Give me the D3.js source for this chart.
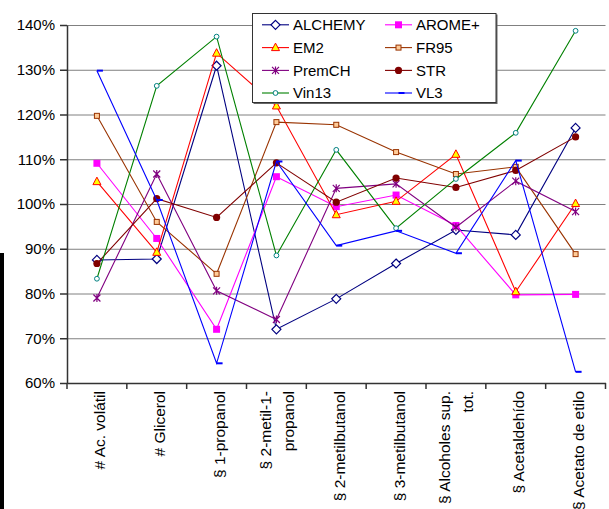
<!DOCTYPE html>
<html>
<head>
<meta charset="utf-8">
<script src="https://cdn.jsdelivr.net/npm/d3@7/dist/d3.min.js"></script>
<style>
  html, body { margin: 0; padding: 0; background: #fff; }
  svg { display: block; font-family: "Liberation Sans", Arial, sans-serif; }
</style>
</head>
<body>
<svg id="chart" width="609" height="509"></svg>
<script>
// Categories (x axis), each label split into its display lines
const categories = ["# Ac. volátil", "# Glicerol", "§ 1-propanol", "§ 2-metil-1-propanol",
  "§ 2-metilbutanol", "§ 3-metilbutanol", "§ Alcoholes sup. tot.", "§ Acetaldehído", "§ Acetato de etilo"];
const categoryLines = [["# Ac. volátil"], ["# Glicerol"], ["§ 1-propanol"], ["§ 2-metil-1-", "propanol"],
  ["§ 2-metilbutanol"], ["§ 3-metilbutanol"], ["§ Alcoholes sup.", "tot."], ["§ Acetaldehído"], ["§ Acetato de etilo"]];

// Series values (percent)
const seriesNames = ["ALCHEMY", "AROME+", "EM2", "FR95", "PremCH", "STR", "Vin13", "VL3"];
const alchemy = [87.5, 87.7, 130.9, 72.0, 78.8, 86.7, 94.2, 93.1, 117.0];
const aromePlus = [109.1, 92.3, 72.0, 106.1, 99.4, 102.0, 95.2, 79.7, 79.8];
const em2 = [105.0, 89.2, 133.7, 121.9, 97.6, 100.6, 111.1, 80.4, 100.1];
const fr95 = [119.7, 96.0, 84.4, 118.3, 117.7, 111.6, 106.7, 108.3, 88.8];
const premCH = [79.0, 106.7, 80.6, 74.2, 103.5, 104.5, 94.8, 105.1, 98.3];
const str = [86.7, 101.2, 97.0, 109.2, 100.4, 105.8, 103.7, 107.5, 115.0];
const vin13 = [83.3, 126.4, 137.4, 88.5, 112.1, 94.6, 105.6, 115.9, 138.7];
const vl3 = [129.8, 100.9, 64.4, 109.5, 90.7, 94.0, 89.0, 109.7, 62.5];

// Y axis ticks
const yTicks = [60, 70, 80, 90, 100, 110, 120, 130, 140];

const seriesValues = [alchemy, aromePlus, em2, fr95, premCH, str, vin13, vl3];

// Styles per series
const styles = {
  "ALCHEMY": { line: "#000080", marker: "diamond", stroke: "#000080", fill: "#ffffff" },
  "AROME+":  { line: "#ff00ff", marker: "square",  stroke: "#ff00ff", fill: "#ff00ff" },
  "EM2":     { line: "#ff0000", marker: "triangle", stroke: "#ff0000", fill: "#ffff00" },
  "FR95":    { line: "#993300", marker: "smallSquare", stroke: "#993300", fill: "#ffcc99" },
  "PremCH":  { line: "#800080", marker: "asterisk", stroke: "#800080", fill: "none" },
  "STR":     { line: "#800000", marker: "dot", stroke: "#800000", fill: "#800000" },
  "Vin13":   { line: "#008000", marker: "ring", stroke: "#008080", fill: "#ffffff" },
  "VL3":     { line: "#0000ff", marker: "dash", stroke: "#0000ff", fill: "#0000ff" }
};

const svg = d3.select("#chart");

// Plot frame
const plotLeft = 67, plotRight = 605.5, plotTop = 25, plotBottom = 383;

const x = d3.scaleBand().domain(categories).range([plotLeft, plotRight]).padding(0);
const y = d3.scaleLinear().domain([60, 140]).range([plotBottom, plotTop]);
const cx = c => x(c) + x.bandwidth() / 2;

// Stray black strip at the left edge
svg.append("rect").attr("x", 0).attr("y", 253).attr("width", 4).attr("height", 256).attr("fill", "#000");

// Horizontal gridlines
svg.append("g")
  .attr("transform", `translate(${plotLeft},0)`)
  .call(d3.axisLeft(y).tickValues(yTicks).tickSize(-(plotRight - plotLeft)).tickFormat(""))
  .call(g => g.select(".domain").remove())
  .call(g => g.selectAll("line").attr("stroke", "#808080").attr("stroke-width", 1));

// Y axis with percentage labels
svg.append("g")
  .attr("transform", `translate(${plotLeft},0)`)
  .call(d3.axisLeft(y).tickValues(yTicks).tickSize(7).tickSizeOuter(0).tickPadding(5).tickFormat(d => d + "%"))
  .call(g => g.select(".domain").attr("stroke", "#333").attr("stroke-width", 1.5))
  .call(g => g.selectAll(".tick line").attr("stroke", "#333").attr("stroke-width", 1.5))
  .call(g => g.selectAll("text").attr("font-size", 15).attr("fill", "#000")
    .attr("font-family", "Liberation Sans, Arial, sans-serif"));

// X axis line with tick marks at category boundaries
const xAxisG = svg.append("g").attr("transform", `translate(0,${plotBottom})`);
xAxisG.call(d3.axisBottom(x).tickSize(0).tickFormat(""))
  .call(g => g.select(".domain").attr("stroke", "#333").attr("stroke-width", 1.5))
  .call(g => g.selectAll(".tick").remove());
const bounds = categories.map(c => x(c)).concat([plotRight]);
xAxisG.selectAll("line.bound").data(bounds).enter().append("line")
  .attr("class", "bound")
  .attr("x1", d => d).attr("x2", d => d).attr("y1", 0).attr("y2", 6)
  .attr("stroke", "#333").attr("stroke-width", 1.5);

// Rotated category labels
const lineGap = 23;
categories.forEach((c, i) => {
  const lines = categoryLines[i];
  const t = svg.append("text")
    .attr("transform", `translate(${cx(c)},391) rotate(-90)`)
    .attr("text-anchor", "end")
    .attr("font-size", 15.5)
    .attr("fill", "#000");
  const offsets = lines.length === 1 ? [8.5] : [-5.5, -5.5 + lineGap];
  lines.forEach((ln, j) => {
    t.append("tspan").attr("x", 0).attr("y", offsets[j]).text(ln);
  });
});

// Marker drawing
function drawMarker(g, kind, st) {
  switch (kind) {
    case "diamond":
      g.append("path").attr("d", "M0,-4.5L4.5,0L0,4.5L-4.5,0Z")
        .attr("fill", st.fill).attr("stroke", st.stroke).attr("stroke-width", 1.2);
      break;
    case "square":
      g.append("rect").attr("x", -3.5).attr("y", -3.5).attr("width", 7).attr("height", 7)
        .attr("fill", st.fill);
      break;
    case "triangle":
      g.append("path").attr("d", "M0,-4.5L4,3L-4,3Z")
        .attr("fill", st.fill).attr("stroke", st.stroke).attr("stroke-width", 1);
      break;
    case "smallSquare":
      g.append("rect").attr("x", -2.5).attr("y", -2.5).attr("width", 5).attr("height", 5)
        .attr("fill", st.fill).attr("stroke", st.stroke).attr("stroke-width", 1);
      break;
    case "asterisk":
      g.append("path").attr("d", "M-3.5,-3.5L3.5,3.5M-3.5,3.5L3.5,-3.5M0,-4L0,4")
        .attr("fill", "none").attr("stroke", st.stroke).attr("stroke-width", 1.2);
      break;
    case "dot":
      g.append("circle").attr("r", 3.6).attr("fill", st.fill);
      break;
    case "ring":
      g.append("circle").attr("r", 2.4)
        .attr("fill", st.fill).attr("stroke", st.stroke).attr("stroke-width", 1);
      break;
    case "dash":
      g.append("rect").attr("x", 0).attr("y", -1).attr("width", 6).attr("height", 2)
        .attr("fill", st.fill);
      break;
  }
}

// Series lines and markers
const line = d3.line().x((d, i) => cx(categories[i])).y(d => y(d));
seriesNames.forEach((name, k) => {
  const st = styles[name];
  const vals = seriesValues[k];
  const g = svg.append("g").attr("class", "series");
  g.append("path").datum(vals).attr("d", line)
    .attr("fill", "none").attr("stroke", st.line).attr("stroke-width", 1.1);
  vals.forEach((v, i) => {
    const mg = g.append("g").attr("transform", `translate(${cx(categories[i])},${y(v)})`);
    drawMarker(mg, st.marker, st);
  });
});

// Legend
const legend = svg.append("g");
legend.append("rect").attr("x", 253.5).attr("y", 14.5).attr("width", 244).attr("height", 89.5)
  .attr("fill", "#666");
legend.append("rect").attr("x", 252.5).attr("y", 13.5).attr("width", 243.5).attr("height", 89)
  .attr("fill", "#fff").attr("stroke", "#333").attr("stroke-width", 1);
const colX = [262, 385];
const rowY = [24.8, 47.6, 70.4, 93];
seriesNames.forEach((name, k) => {
  const st = styles[name];
  const col = k % 2, row = Math.floor(k / 2);
  const lx = colX[col], ly = rowY[row];
  legend.append("line").attr("x1", lx).attr("x2", lx + 27).attr("y1", ly).attr("y2", ly)
    .attr("stroke", st.line).attr("stroke-width", 1.1);
  const mg = legend.append("g").attr("transform", `translate(${lx + 13.5},${ly})`);
  drawMarker(mg, st.marker, st);
  legend.append("text").attr("x", lx + 31).attr("y", ly).attr("dy", "0.36em")
    .attr("font-size", 15).attr("fill", "#000").text(name);
});
</script>
</body>
</html>
